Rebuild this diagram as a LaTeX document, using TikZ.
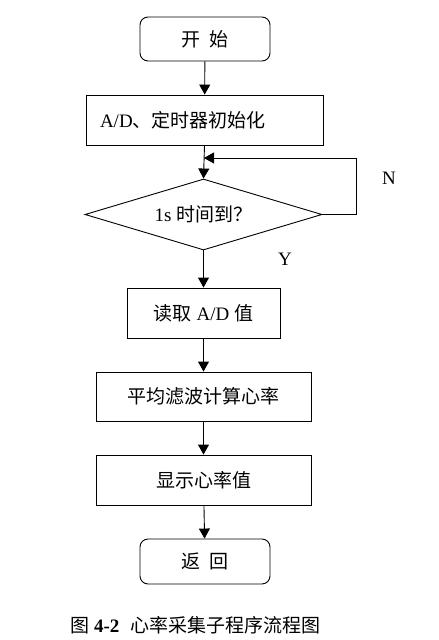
\documentclass[tikz,border=0pt]{standalone}
\usepackage{fontspec}
\setmainfont{Liberation Serif}
\newfontfamily\cjk{Noto Sans CJK SC}
\usetikzlibrary{arrows.meta,shapes.geometric}
\tikzset{
  every node/.style={font=\fontsize{19}{22}\selectfont},
  box/.style={draw,line width=0.9pt,minimum width=#1,minimum height=50pt,inner sep=0pt},
  term/.style={box=130pt,rounded corners=8pt,minimum height=44pt},
  cond/.style={draw,line width=0.9pt,diamond,aspect=3.34,minimum width=237pt,minimum height=71pt,inner sep=0pt},
  arr/.style={line width=0.9pt,-{Triangle[length=10pt,width=11pt]}}
}
\begin{document}
\begin{tikzpicture}[x=1pt,y=-1pt]
\useasboundingbox (0,0) rectangle (439,640);
\node[term] (start) at (205,39) {{\cjk 开\hspace{0.5em}始}};
\node[box=237pt,inner xsep=14pt,text width=209pt,align=left] (init) at (204.5,120) {A/D{\cjk 、定时器初始化}};
\node[cond] (dec) at (203.5,214.5) {1s {\cjk 时间到？}};
\node[box=153pt] (read) at (203.5,313) {{\cjk 读取} A/D {\cjk 值}};
\node[box=215pt,minimum height=49pt] (avg) at (203.5,396.5) {{\cjk 平均滤波计算心率}};
\node[box=215pt] (disp) at (203.5,480) {{\cjk 显示心率值}};
\node[term,minimum height=45pt] (ret) at (205,561.5) {{\cjk 返\hspace{0.5em}回}};
\coordinate (loop) at (204,158);
\node (no) at (389,178) {N};
\node (yes) at (285,259) {Y};
\node (cap) at (195.5,625) {{\cjk 图} \textbf{4-2}\hspace{0.6em}{\cjk 心率采集子程序流程图}};
\draw[arr] (start) -- (init);
\draw[arr] (init.south) -- (dec.north);
\draw[arr] (dec.east) -- ++(34,0) |- (loop);
\draw[arr] (dec) -- (read);
\draw[arr] (read) -- (avg);
\draw[arr] (avg) -- (disp);
\draw[arr] (disp) -- (ret);
\end{tikzpicture}
\end{document}
